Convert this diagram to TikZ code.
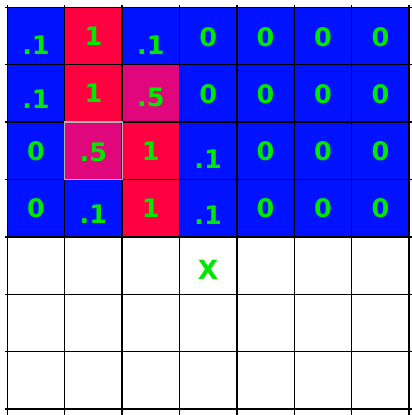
\documentclass[tikz,border=0pt]{standalone}
\usepackage{fontspec}
\setmainfont{DejaVu Sans}
\definecolor{cblue}{RGB}{0,18,255}
\definecolor{cred}{RGB}{255,0,64}
\definecolor{cmag}{RGB}{224,6,124}
\definecolor{txtgreen}{RGB}{0,232,0}
\begin{document}
\begin{tikzpicture}[x=1pt,y=-1pt,
  cellbox/.style={draw=none, minimum size=57.6pt, inner sep=0pt, outer sep=0pt},
  val/.style={text=txtgreen, font=\fontsize{25.5}{25.5}\selectfont\bfseries, inner sep=0pt, anchor=center},
  gridline/.style={black, line width=1.4pt}]
\useasboundingbox (0,0) rectangle (412,415);
\foreach \r/\c/\fc/\txt/\dy in {
  0/0/cblue/.1/9, 0/1/cred/1/0, 0/2/cblue/.1/9, 0/3/cblue/0/1, 0/4/cblue/0/1, 0/5/cblue/0/1, 0/6/cblue/0/1,
  1/0/cblue/.1/6, 1/1/cred/1/0, 1/2/cmag/.5/4, 1/3/cblue/0/1, 1/4/cblue/0/1, 1/5/cblue/0/1, 1/6/cblue/0/1,
  2/0/cblue/0/0, 2/1/cmag/.5/2, 2/2/cred/1/0, 2/3/cblue/.1/8, 2/4/cblue/0/0, 2/5/cblue/0/0, 2/6/cblue/0/0,
  3/0/cblue/0/0, 3/1/cblue/.1/6, 3/2/cred/1/0, 3/3/cblue/.1/7, 3/4/cblue/0/0, 3/5/cblue/0/0, 3/6/cblue/0/0} {
  \node[cellbox, fill=\fc] (c\r\c) at ({7.3+(\c+0.5)*57.4},{7.3+(\r+0.5)*57.4}) {};
  \node[val] (t\r\c) at ([yshift=-\dy pt]c\r\c.center) {\txt};
}
\node[cellbox] (c43) at ({7.3+3.5*57.4},{7.3+4.5*57.4}) {};
\node[val, font=\fontsize{26.5}{26.5}\selectfont\bfseries] (x43) at ([yshift=-4pt]c43.center) {X};
\foreach \k in {0,...,7} {
  \draw[gridline] (5,{7.3+\k*57.4}) -- (412,{7.3+\k*57.4});
  \draw[gridline] ({7.3+\k*57.4},5) -- ({7.3+\k*57.4},415);
}
\draw[gray!60, line width=1.2pt] (c21.north west) rectangle (c21.south east);
\end{tikzpicture}
\end{document}
